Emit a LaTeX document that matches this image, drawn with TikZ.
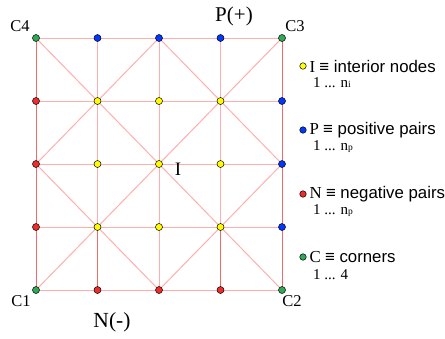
\documentclass[tikz,border=0pt]{standalone}
\usepackage{fontspec}
\setmainfont{Liberation Serif}
\newfontfamily\legendsans{Liberation Sans}
\usetikzlibrary{positioning}
\definecolor{meshlight}{HTML}{FFAEAE}
\definecolor{meshdark}{HTML}{F06A6A}
\definecolor{ptyellow}{HTML}{FFFF00}
\definecolor{ptblue}{HTML}{0038FF}
\definecolor{ptred}{HTML}{EE2C2C}
\definecolor{ptgreen}{HTML}{2EAA55}

\begin{document}
\begin{tikzpicture}[
    x=1pt, y=-1pt,
    dot/.style={circle, draw=black, line width=0.5pt, inner sep=0pt, minimum size=7pt},
    keydot/.style={dot, minimum size=6.5pt},
    edge/.style={meshlight, line width=1pt},
    rim/.style={meshdark, line width=1pt},
    corner/.style={font=\fontsize{16.5}{18}\selectfont},
    keytext/.style={anchor=west, inner sep=0pt, font=\fontsize{16.8}{18}\selectfont},
    keyrange/.style={anchor=west, inner sep=0pt, font=\fontsize{15}{17}\selectfont},
]
    \useasboundingbox (0,0) rectangle (445,338);
    \foreach \i in {0,...,4}
        \foreach \j in {0,...,4}
            \coordinate (p\i\j) at (36+61.5*\i, 38+63*\j);

    % mesh lines
    \foreach \j in {0,...,4}
        \draw[edge] (p0\j) -- (p4\j);
    \draw[edge] (p10) -- (p13);
    \draw[edge] (p20) -- (p24);
    \draw[edge] (p30) -- (p33);
    \draw[edge] (p00) -- (p44);
    \draw[edge] (p04) -- (p40);
    \draw[edge] (p20) -- (p42) -- (p24) -- (p02) -- cycle;
    \draw[rim] (p00) -- (p04);
    \draw[rim] (p40) -- (p44);
    \draw[rim] (p13) -- (p14);
    \draw[rim] (p33) -- (p34);

    % mesh points
    \foreach \i/\j/\c in {0/0/ptgreen, 1/0/ptblue, 2/0/ptblue, 3/0/ptblue, 4/0/ptgreen,
                          0/1/ptred, 1/1/ptyellow, 2/1/ptyellow, 3/1/ptyellow, 4/1/ptblue,
                          0/2/ptred, 1/2/ptyellow, 2/2/ptyellow, 3/2/ptyellow, 4/2/ptblue,
                          0/3/ptred, 1/3/ptyellow, 2/3/ptyellow, 3/3/ptyellow, 4/3/ptblue,
                          0/4/ptgreen, 1/4/ptred, 2/4/ptred, 3/4/ptred, 4/4/ptgreen}
        \node[dot, fill=\c] (n\i\j) at (p\i\j) {};

    \node[corner] (c4) at (20, 26) {C4};
    \node[corner] (c3) at (295, 26) {C3};
    \node[corner] (c1) at (21, 301) {C1};
    \node[corner] (c2) at (292, 301) {C2};
    \node[font=\fontsize{21}{24}\selectfont] (plus) at (234, 16) {P(+)};
    \node[font=\fontsize{21.5}{24}\selectfont] (minus) at (112, 322) {N(-)};
    \node[font=\fontsize{19}{22}\selectfont] (inner) at (178, 169) {I};

    % legend
    \node[keydot, fill=ptyellow] (keyI) at (303, 66) {};
    \node[keytext, right=3pt of keyI] (textI) {I {\legendsans≡ interior nodes}};
    \node[keyrange] (rangeI) at (313, 83) {1 ... n{\fontsize{9.5}{10}\selectfont i}};
    \node[keydot, fill=ptblue] (keyP) at (303, 130) {};
    \node[keytext, right=3pt of keyP] (textP) {P {\legendsans≡ positive pairs}};
    \node[keyrange] (rangeP) at (313, 147) {1 ... n{\fontsize{9.5}{10}\selectfont p}};
    \node[keydot, fill=ptred] (keyN) at (303, 194) {};
    \node[keytext, right=3pt of keyN] (textN) {N {\legendsans≡ negative pairs}};
    \node[keyrange] (rangeN) at (313, 211) {1 ... n{\fontsize{9.5}{10}\selectfont p}};
    \node[keydot, fill=ptgreen] (keyC) at (303, 257) {};
    \node[keytext, right=3pt of keyC] (textC) {C {\legendsans≡ corners}};
    \node[keyrange] (rangeC) at (313, 275) {1 ... 4};
\end{tikzpicture}
\end{document}
